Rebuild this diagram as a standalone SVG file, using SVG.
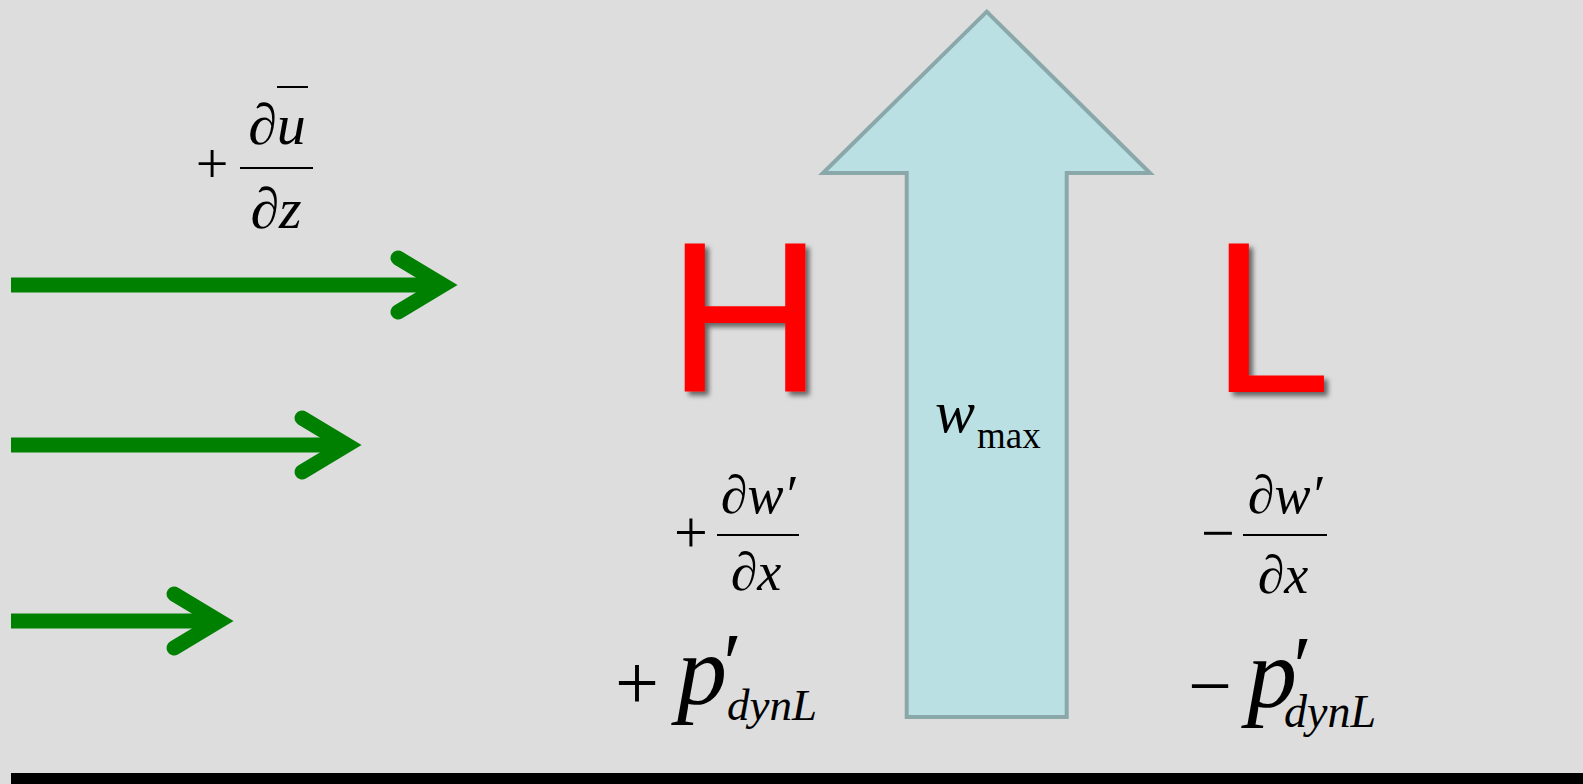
<svg xmlns="http://www.w3.org/2000/svg" width="1583" height="784" viewBox="0 0 1583 784">
<style>
.m{font-family:"Liberation Serif","Times New Roman",serif;fill:#000}
.i{font-style:italic}
.g{stroke:#008000;stroke-width:15;fill:none}
.hd{stroke-linecap:round;stroke-linejoin:miter}
.big{font-family:"Liberation Sans",Arial,sans-serif;font-size:216px;fill:#ff0000}
.bar{stroke:#000;stroke-width:2}
</style>
<defs>
<filter id="sh" x="-20%" y="-20%" width="140%" height="140%">
<feDropShadow dx="4" dy="4" stdDeviation="2.5" flood-color="#000" flood-opacity="0.55"/>
</filter>
</defs>
<rect x="0" y="0" width="1583" height="784" fill="#dddddd"/>
<g id="connectors">
<line class="g" x1="11" y1="285" x2="440" y2="285"/>
<polyline class="g hd" points="398,258 443,285 398,312"/>
<line class="g" x1="11" y1="445" x2="344" y2="445"/>
<polyline class="g hd" points="302,418 347,445 302,472"/>
<line class="g" x1="11" y1="621" x2="216" y2="621"/>
<polyline class="g hd" points="174,594 219,621 174,648"/>
</g>
<g id="updraft">
<polygon points="986.7,11.7 1150,173 1066.7,173 1066.7,717 906.7,717 906.7,173 823,173" fill="#bae0e3" stroke="#8aa8aa" stroke-width="4"/>
<text class="m i" x="935" y="432" font-size="60">w</text>
<text class="m" x="977" y="448" font-size="37">max</text>
</g>
<g id="shear">
<text class="m" x="212" y="183" font-size="58" text-anchor="middle">+</text>
<line class="bar" x1="240" y1="168" x2="313" y2="168"/>
<text class="m i" x="277" y="144" font-size="58" text-anchor="middle">∂u</text>
<line class="bar" x1="277" y1="87" x2="308" y2="87"/>
<text class="m i" x="276" y="228" font-size="58" text-anchor="middle">∂z</text>
</g>
<g id="H">
<text class="big" x="667" y="392" filter="url(#sh)">H</text>
<text class="m" x="691" y="552" font-size="60" text-anchor="middle">+</text>
<line class="bar" x1="717" y1="535" x2="799" y2="535"/>
<text class="m i" x="758" y="513" font-size="54" text-anchor="middle">∂w′</text>
<text class="m i" x="756" y="590" font-size="54" text-anchor="middle">∂x</text>
<text class="m" x="637" y="709" font-size="78" text-anchor="middle">+</text>
<text class="m i" x="677" y="704" font-size="100">p</text>
<text class="m i" x="718" y="692" font-size="85">′</text>
<text class="m i" x="727" y="720" font-size="45">dynL</text>
</g>
<g id="L">
<text class="big" x="1211" y="392" filter="url(#sh)">L</text>
<text class="m" x="1218" y="553" font-size="60" text-anchor="middle">−</text>
<line class="bar" x1="1243" y1="535" x2="1327" y2="535"/>
<text class="m i" x="1285" y="513" font-size="54" text-anchor="middle">∂w′</text>
<text class="m i" x="1283" y="593" font-size="54" text-anchor="middle">∂x</text>
<text class="m" x="1210" y="712" font-size="78" text-anchor="middle">−</text>
<text class="m i" x="1247" y="707" font-size="100">p</text>
<text class="m i" x="1288" y="695" font-size="85">′</text>
<text class="m i" x="1284" y="727" font-size="46">dynL</text>
</g>
<rect x="11" y="773" width="1572" height="11" fill="#000"/>
</svg>
